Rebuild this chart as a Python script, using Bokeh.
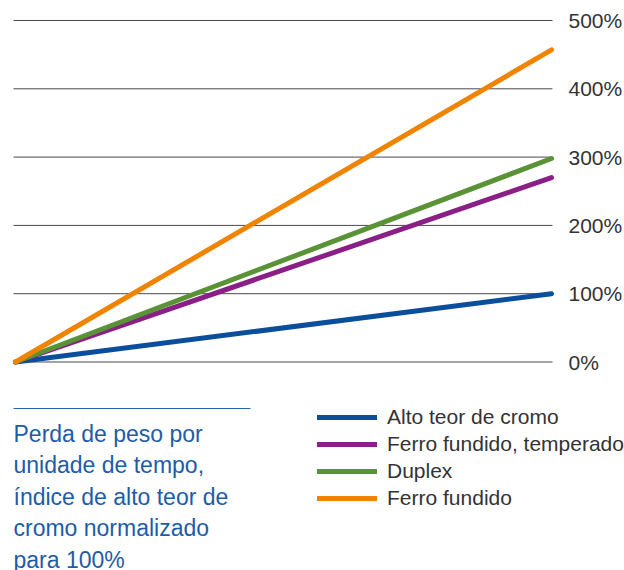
from bokeh.plotting import figure
from bokeh.models import Legend, LegendItem, Label, Arrow, Range1d
from bokeh.core.properties import value
from bokeh.embed import file_html
from bokeh.resources import INLINE

# ---- data ----
series_names = ["Alto teor de cromo", "Ferro fundido, temperado", "Duplex", "Ferro fundido"]
start_values = [0, 0, 0, 0]
end_values = [100, 270, 298, 457]
x_points = [0, 1]
series_colors = ["#0b4f9c", "#8a1f86", "#5a9236", "#f08300"]
tick_values = [0, 100, 200, 300, 400, 500]
tick_labels = ["0%", "100%", "200%", "300%", "400%", "500%"]
note_lines = ["Perda de peso por", "unidade de tempo,", "índice de alto teor de",
              "cromo normalizado", "para 100%"]

FONT = "Liberation Sans"
W, H = 624, 570
# pixel geometry of the plotting area inside the canvas
X0_PX, X1_PX = 15, 551        # where x=0 and x=1 fall
Y0_PX, Y500_PX = 361.5, 20    # where 0 % and 500 % fall
xs = (X1_PX - X0_PX)
ys = (Y0_PX - Y500_PX) / 500.0

p = figure(width=W, height=H, min_border=0,
           x_range=Range1d(-X0_PX / xs, 1 + (W - X1_PX) / xs),
           y_range=Range1d(-(H - Y0_PX) / ys, 500 + Y500_PX / ys),
           x_axis_location=None, y_axis_location=None,
           toolbar_location=None, output_backend="svg")
p.outline_line_color = None
p.background_fill_color = "white"
p.border_fill_color = "white"
p.xgrid.visible = False
p.ygrid.visible = False

# horizontal grid lines at the tick values (from x slightly left of 0 to slightly past 1)
grid_x0 = -2 / xs
grid_x1 = 1 + 1 / xs
p.segment(x0=[grid_x0] * len(tick_values), x1=[grid_x1] * len(tick_values),
          y0=tick_values, y1=tick_values, line_color="#4a4a4a", line_width=1)

# tick labels on the right
p.text(x=[1] * len(tick_values), y=tick_values, text=tick_labels, x_offset=17,
       text_font=value(FONT), text_font_size="21px", text_color="#333333",
       text_baseline="middle", text_align="left")

renderers = []
for name, s, e, c in zip(series_names, start_values, end_values, series_colors):
    r = p.line(x=x_points, y=[s, e], line_color=c, line_width=5, line_cap="round")
    renderers.append(r)

legend = Legend(items=[LegendItem(label=n, renderers=[r]) for n, r in zip(series_names, renderers)],
                location=(317, H - 510),
                glyph_width=60, glyph_height=20, label_height=20, spacing=3,
                label_standoff=10, padding=0, margin=0,
                border_line_color=None, background_fill_alpha=0,
                label_text_font=FONT, label_text_font_size="21px",
                label_text_color="#333333")
p.add_layout(legend)

# separator line above the note
p.add_layout(Arrow(end=None, x_start=13, x_end=250, y_start=H - 408, y_end=H - 408,
                   start_units="screen", end_units="screen",
                   line_color="#2d62a6", line_width=1))

for i, t in enumerate(note_lines):
    p.add_layout(Label(x=13, y=H - (433 + i * 31.5), x_units="screen", y_units="screen",
                       text=t, text_font=FONT, text_font_size="23px",
                       text_color="#1e5ca8", text_baseline="alphabetic"))

open("out.html", "w").write(file_html(p, INLINE))
